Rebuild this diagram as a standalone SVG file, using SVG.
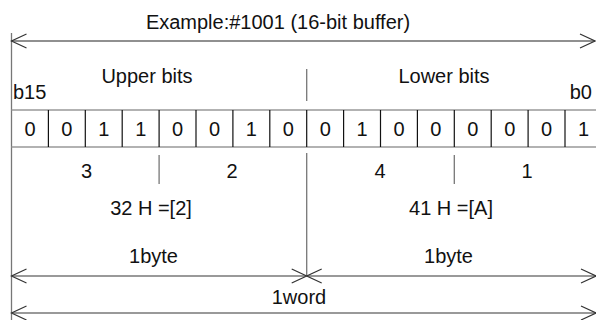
<svg xmlns="http://www.w3.org/2000/svg" width="596" height="320" viewBox="0 0 596 320">
  <style>
    text { font-family: "Liberation Sans", Arial, sans-serif; font-size: 20px; fill: #111; }
    .c { text-anchor: middle; }
    .gray { stroke: #777; stroke-width: 1.3; fill: none; }
    .dark { stroke: #222; stroke-width: 1.2; fill: none; }
    .tbl { stroke: #999; stroke-width: 1.3; fill: none; }
    .cell { stroke: #111; stroke-width: 1.2; }
  </style>
  <defs>
    <marker id="chev" viewBox="0 -8 16 16" refX="15" refY="0" markerWidth="16" markerHeight="16" markerUnits="userSpaceOnUse" orient="auto-start-reverse" overflow="visible">
      <path d="M0,-7 L15,0 L0,7" fill="none" stroke="#333" stroke-width="1.2"/>
    </marker>
  </defs>

  <g id="title">
    <text class="c" x="278" y="29">Example:#1001 (16-bit buffer)</text>
  </g>

  <g id="connectors">
    <line class="gray" x1="11.5" y1="33" x2="11.5" y2="320"/>
    <line class="dark" x1="11.5" y1="41" x2="595" y2="41" marker-start="url(#chev)" marker-end="url(#chev)"/>
    <line class="gray" x1="306.7" y1="69" x2="306.7" y2="101"/>
    <line class="gray" x1="306.7" y1="153" x2="306.7" y2="276"/>
    <line class="gray" x1="159.1" y1="155" x2="159.1" y2="184"/>
    <line class="gray" x1="454.3" y1="155" x2="454.3" y2="184"/>
    <line class="gray" x1="11.5" y1="276" x2="306.7" y2="276" marker-start="url(#chev)" marker-end="url(#chev)"/>
    <line class="gray" x1="306.7" y1="276" x2="596" y2="276" marker-start="url(#chev)" marker-end="url(#chev)"/>
    <line class="gray" x1="11.5" y1="313" x2="596" y2="313" marker-start="url(#chev)" marker-end="url(#chev)"/>
  </g>

  <g id="labels">
    <text x="13" y="99">b15</text>
    <text class="c" x="147" y="83">Upper bits</text>
    <text class="c" x="444" y="83">Lower bits</text>
    <text x="592" y="99" text-anchor="end">b0</text>
  </g>

  <g id="register">
    <line class="tbl" x1="11.5" y1="110" x2="600" y2="110"/>
    <line class="tbl" x1="11.5" y1="147" x2="600" y2="147"/>
    <g class="cell">
      <line x1="48.4" y1="110" x2="48.4" y2="147"/>
      <line x1="85.3" y1="110" x2="85.3" y2="147"/>
      <line x1="122.2" y1="110" x2="122.2" y2="147"/>
      <line x1="159.1" y1="110" x2="159.1" y2="147"/>
      <line x1="196" y1="110" x2="196" y2="147"/>
      <line x1="232.9" y1="110" x2="232.9" y2="147"/>
      <line x1="269.8" y1="110" x2="269.8" y2="147"/>
      <line x1="306.7" y1="110" x2="306.7" y2="147"/>
      <line x1="343.6" y1="110" x2="343.6" y2="147"/>
      <line x1="380.5" y1="110" x2="380.5" y2="147"/>
      <line x1="417.4" y1="110" x2="417.4" y2="147"/>
      <line x1="454.3" y1="110" x2="454.3" y2="147"/>
      <line x1="491.2" y1="110" x2="491.2" y2="147"/>
      <line x1="528.1" y1="110" x2="528.1" y2="147"/>
      <line x1="565" y1="110" x2="565" y2="147"/>
    </g>
    <g>
      <text class="c" x="30" y="136">0</text>
      <text class="c" x="66.9" y="136">0</text>
      <text class="c" x="103.8" y="136">1</text>
      <text class="c" x="140.7" y="136">1</text>
      <text class="c" x="177.6" y="136">0</text>
      <text class="c" x="214.5" y="136">0</text>
      <text class="c" x="251.4" y="136">1</text>
      <text class="c" x="288.3" y="136">0</text>
      <text class="c" x="325.2" y="136">0</text>
      <text class="c" x="362.1" y="136">1</text>
      <text class="c" x="399" y="136">0</text>
      <text class="c" x="435.9" y="136">0</text>
      <text class="c" x="472.8" y="136">0</text>
      <text class="c" x="509.7" y="136">0</text>
      <text class="c" x="546.6" y="136">0</text>
      <text class="c" x="583.5" y="136">1</text>
    </g>
  </g>

  <g id="nibbles">
    <text class="c" x="86.5" y="178">3</text>
    <text class="c" x="232" y="178">2</text>
    <text class="c" x="380" y="178">4</text>
    <text class="c" x="527" y="178">1</text>
  </g>

  <g id="hex">
    <text class="c" x="151" y="215">32 H =[2]</text>
    <text class="c" x="451" y="215">41 H =[A]</text>
  </g>

  <g id="sizes">
    <text class="c" x="153.5" y="263">1byte</text>
    <text class="c" x="448.5" y="263">1byte</text>
    <text class="c" x="299" y="304">1word</text>
  </g>
</svg>
